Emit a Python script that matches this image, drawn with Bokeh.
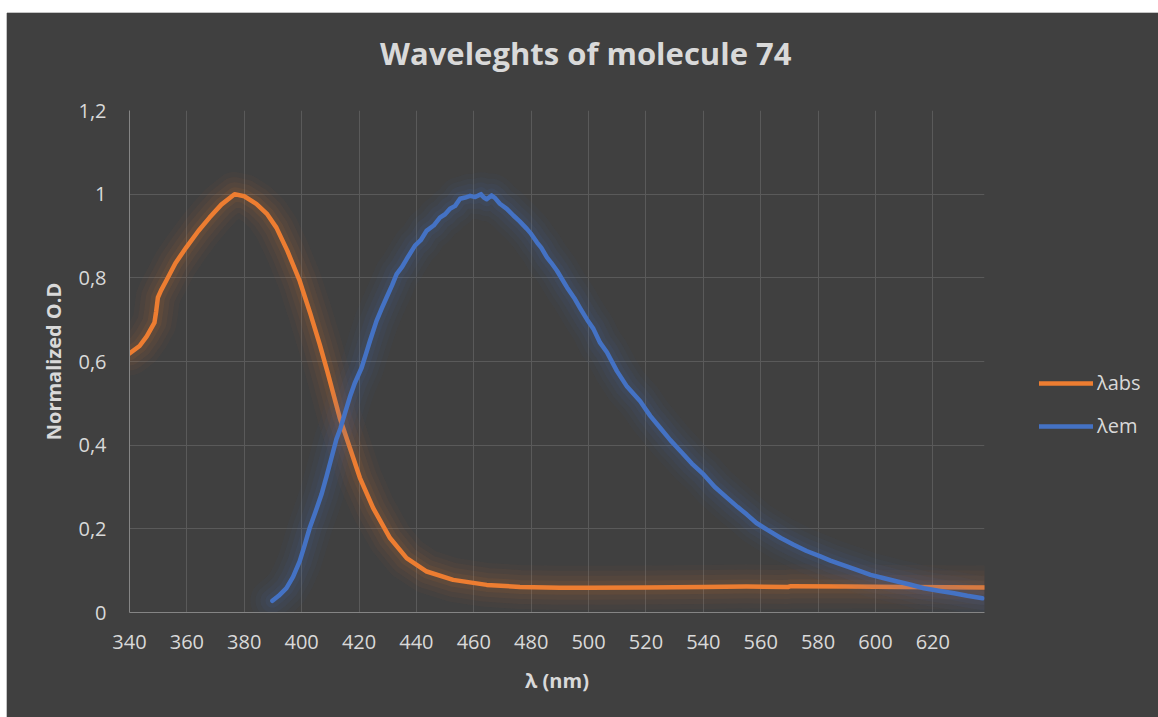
from bokeh.plotting import figure
from bokeh.models import (Legend, LegendItem, FixedTicker, CustomJSTickFormatter,
                          Range1d, Spacer, Div)
from bokeh.layouts import column, row
from bokeh.embed import file_html
from bokeh.resources import INLINE

title_text = "Waveleghts of molecule 74"
x_label = "λ (nm)"
y_label = "Normalized O.D"
series_names = ["λabs", "λem"]
x_ticks = [340, 360, 380, 400, 420, 440, 460, 480, 500, 520, 540, 560, 580, 600, 620]
y_ticks = [0, 0.2, 0.4, 0.6, 0.8, 1.0, 1.2]

abs_wl = [340, 343.5, 346, 348.7, 349.3, 349.9, 351, 352.8, 356, 359.8, 364, 367.9, 372,
          376.6, 380, 384.2, 388, 391.2, 395, 399.3, 403, 406.3, 409, 413.3, 416.8, 420.3,
          424.9, 430.8, 436.6, 443.6, 452.8, 464.5, 476.1, 490, 500, 520, 540, 555,
          569.5, 570.5, 590, 610, 638]
abs_od = [0.619, 0.637, 0.660, 0.693, 0.720, 0.753, 0.770, 0.793, 0.835, 0.873, 0.912,
          0.944, 0.975, 1.000, 0.995, 0.977, 0.952, 0.920, 0.865, 0.793, 0.715, 0.641,
          0.575, 0.465, 0.394, 0.322, 0.250, 0.178, 0.130, 0.098, 0.078, 0.066, 0.061,
          0.059, 0.059, 0.060, 0.061, 0.062, 0.061, 0.063, 0.062, 0.061, 0.060]

em_wl = [389.8, 392, 394.7, 397, 399.3, 401, 402.8, 404.8, 406.9, 408.7, 410.4, 412.1,
         413.5, 415.0, 416.8, 418.5, 420.9, 422.5, 423.8, 426.1, 428.0, 429.6, 431.5,
         433.1, 435.0, 436.6, 439.5, 441.5, 443.6, 446.0, 448.2, 450.0, 451.7, 453.5,
         455.2, 457.0, 458.7, 460.5, 462.5, 463.5, 464.5, 466.2, 467.5, 469.1, 471.5,
         473.8, 476.0, 478.5, 480.0, 482.0, 483.5, 485.5, 487.0, 489.0, 492.5, 495.0,
         497.2, 499.5, 501.7, 504.0, 506.4, 509.9, 513.4, 518.0, 521.5, 525.0, 528.5,
         532.0, 536.0, 540.1, 544.0, 548.3, 552.0, 555.2, 558.5, 562.2, 567.0, 571.5,
         576.0, 580.8, 584.3, 587.5, 593.0, 598.3, 603.0, 607.6, 612.0, 616.9, 622.0,
         627.4, 632.0, 637.3]
em_od = [0.028, 0.040, 0.058, 0.085, 0.122, 0.160, 0.202, 0.240, 0.282, 0.326, 0.370,
         0.414, 0.440, 0.474, 0.515, 0.548, 0.585, 0.620, 0.649, 0.697, 0.728, 0.753,
         0.782, 0.809, 0.826, 0.845, 0.877, 0.890, 0.913, 0.925, 0.944, 0.952, 0.965,
         0.972, 0.989, 0.992, 0.996, 0.993, 1.000, 0.992, 0.988, 0.997, 0.990, 0.977,
         0.965, 0.949, 0.935, 0.917, 0.905, 0.885, 0.872, 0.849, 0.836, 0.817, 0.777,
         0.752, 0.726, 0.700, 0.678, 0.645, 0.622, 0.577, 0.540, 0.505, 0.470, 0.441,
         0.412, 0.386, 0.356, 0.330, 0.300, 0.274, 0.252, 0.234, 0.214, 0.198, 0.178,
         0.162, 0.147, 0.134, 0.124, 0.116, 0.103, 0.090, 0.082, 0.074, 0.067, 0.058,
         0.052, 0.046, 0.040, 0.034]

BG = "#404040"
TXT = "#d9d9d9"
GRID = "#5a5a5a"
AXIS = "#858585"
EDGE = "#c4c4c4"
FONT = "Open Sans"
ORANGE = "#ED7D31"
BLUE = "#4472C4"

p = figure(frame_width=855, frame_height=502,
           x_range=Range1d(340, 638), y_range=Range1d(0, 1.2),
           output_backend="svg", toolbar_location=None,
           min_border_left=122, min_border_right=173, min_border_top=20, min_border_bottom=105,
           background_fill_color=BG, border_fill_color=BG, outline_line_color=None)
p.title.text = ""

p.xaxis.ticker = FixedTicker(ticks=x_ticks)
p.yaxis.ticker = FixedTicker(ticks=y_ticks)
p.xgrid.ticker = FixedTicker(ticks=x_ticks)
p.ygrid.ticker = FixedTicker(ticks=y_ticks)
p.grid.grid_line_color = GRID
p.grid.grid_line_width = 1

for ax in (p.xaxis, p.yaxis):
    ax.axis_line_color = AXIS
    ax.major_tick_line_color = None
    ax.minor_tick_line_color = None
    ax.major_label_text_font = FONT
    ax.major_label_text_font_size = "20px"
    ax.major_label_text_color = TXT
    ax.axis_label_text_font = FONT
    ax.axis_label_text_font_size = "20px"
    ax.axis_label_text_font_style = "bold"
    ax.axis_label_text_color = TXT

p.xaxis.axis_label = x_label
p.yaxis.axis_label = y_label
p.xaxis.major_label_standoff = 16
p.yaxis.major_label_standoff = 17
p.xaxis.axis_label_standoff = 15
p.yaxis.axis_label_standoff = 8
p.yaxis.formatter = CustomJSTickFormatter(
    code="var s = tick.toFixed(1).replace('.', ','); return s.endsWith(',0') ? s.slice(0, -2) : s;")


def draw(xs, ys, color):
    for w, a in [(44, 0.035), (34, 0.045), (24, 0.055), (14, 0.07)]:
        p.line(xs, ys, line_color=color, line_width=w, line_alpha=a,
               line_join="round", line_cap="round")
    return p.line(xs, ys, line_color=color, line_width=4.5, line_join="round", line_cap="round")


r_abs = draw(abs_wl, abs_od, ORANGE)
r_em = draw(em_wl, em_od, BLUE)

legend = Legend(items=[LegendItem(label=series_names[0], renderers=[r_abs]),
                       LegendItem(label=series_names[1], renderers=[r_em])],
                location=(55, 173), orientation="vertical",
                background_fill_alpha=0, border_line_color=None,
                padding=0, margin=0, spacing=16, glyph_width=54, glyph_height=20,
                label_height=20, label_standoff=4,
                label_text_color=TXT, label_text_font=FONT, label_text_font_size="20px")
p.add_layout(legend, "right")

title_div = Div(
    text=(f'<div style="font-family:\'{FONT}\';font-size:31px;font-weight:bold;color:{TXT};'
          f'line-height:42px;white-space:nowrap;padding-top:19px;'
          f'padding-left:373px;margin:0;">{title_text}</div>'),
    width=1150, height=77, styles={"background-color": BG, "margin": "0", "padding": "0"})

layout = column(
    Spacer(height=12, width=1158),
    Spacer(height=1, width=1151, styles={"background-color": EDGE, "margin-left": "7px"}),
    row(Spacer(width=7, height=704),
        Spacer(width=1, height=704, styles={"background-color": EDGE, "margin-left": "-1px"}),
        column(title_div, p, styles={"background-color": BG})),
)

open("out.html", "w").write(file_html(layout, INLINE))
